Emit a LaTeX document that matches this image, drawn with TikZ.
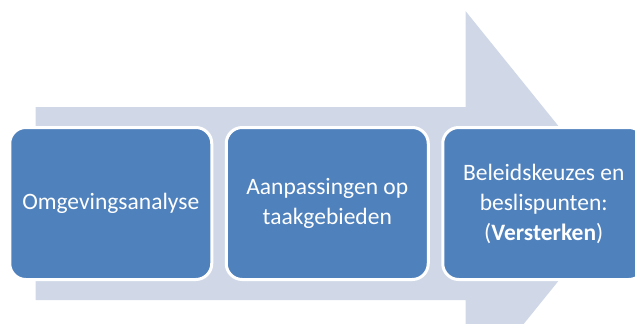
\documentclass[tikz,border=0pt]{standalone}
\usepackage{fontspec}
\setmainfont{Carlito}
\usetikzlibrary{positioning}
\definecolor{stepblue}{HTML}{4F81BD}
\definecolor{arrowgrey}{HTML}{D0D8E8}

\begin{document}
\begin{tikzpicture}[x=1pt, y=-1pt, node distance=11.5pt, every node/.style={draw=white, line width=3pt, fill=stepblue, text=white, rounded corners=16pt, minimum width=202pt, minimum height=152pt, align=center, font=\fontsize{23.5}{30}\selectfont}]
  \useasboundingbox (0,0) rectangle (635,324);
  \clip (0,0) rectangle (635,324);
  % big background arrow
  \fill [arrowgrey] (35.5,107) -- (465.5,107) -- (465.5,11) -- (621,203.5) -- (465.5,396) -- (465.5,300) -- (35.5,300) -- cycle;
  \node (omg) at (110.75,203.5) {Omgevingsanalyse};
  \node (aanp) [right=of omg] {Aanpassingen op\\taakgebieden};
  \node (bel) [right=of aanp] {Beleidskeuzes en\\beslispunten:\\(\textbf{Versterken})};
\end{tikzpicture}
\end{document}
